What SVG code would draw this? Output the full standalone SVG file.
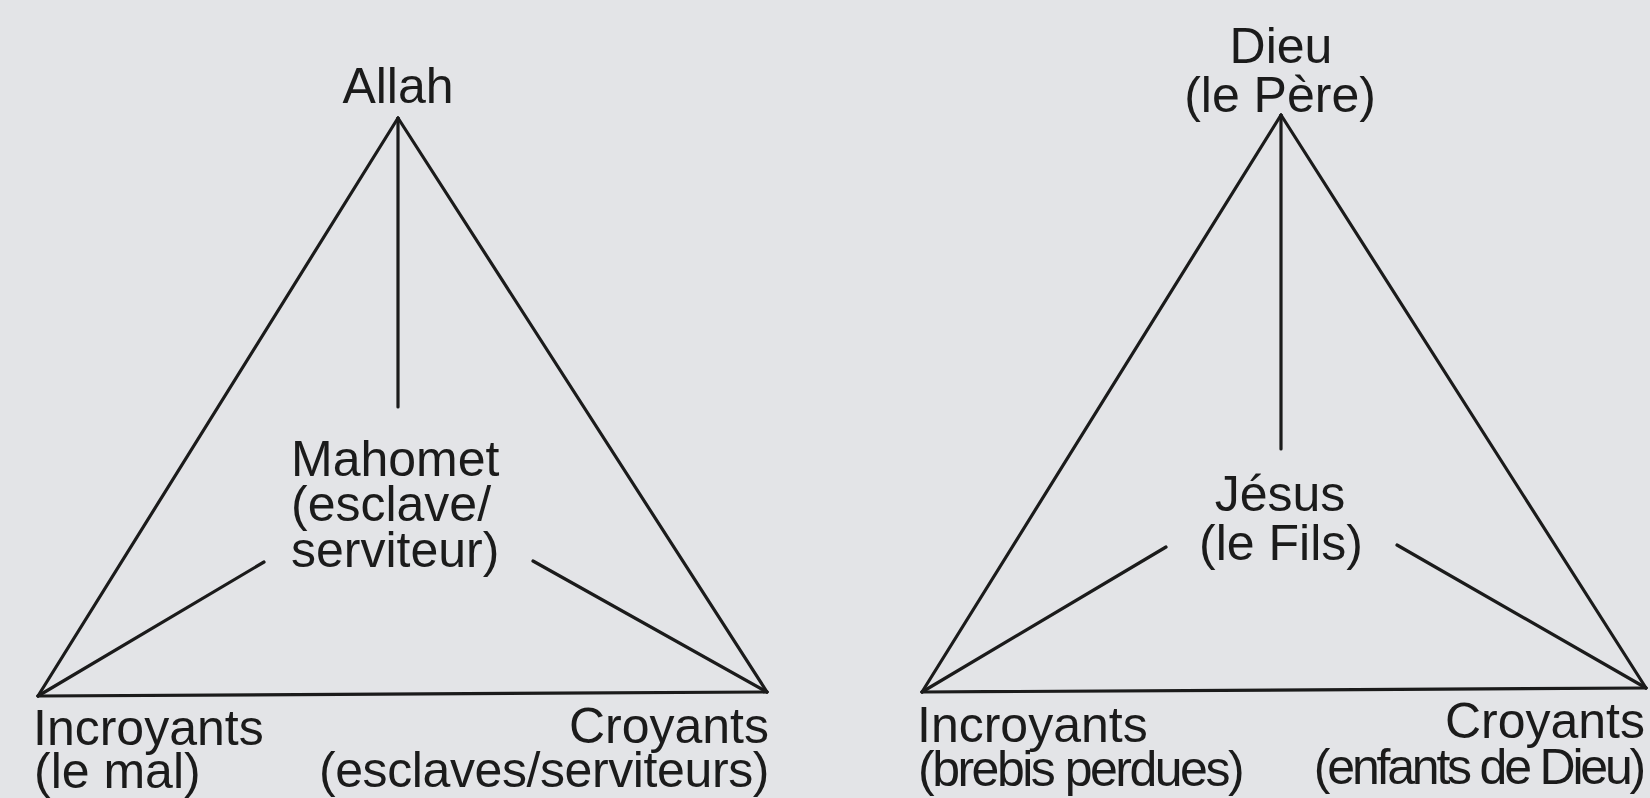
<svg xmlns="http://www.w3.org/2000/svg" width="1650" height="798" viewBox="0 0 1650 798">
<style>
.bg{fill:#e3e4e7}
.ln{stroke:#1b1b1b;stroke-width:3.2;stroke-linecap:round;fill:none}
text{font-family:"Liberation Sans",Arial,sans-serif;font-size:50px;fill:#1b1b1b}
.c{text-anchor:middle}
.e{text-anchor:end}
</style>
<rect class="bg" x="0" y="0" width="1650" height="798"/>
<g id="connectors">
<line class="ln" x1="398" y1="118" x2="38" y2="696"/>
<line class="ln" x1="398" y1="118" x2="767" y2="692"/>
<line class="ln" x1="38" y1="696" x2="767" y2="692"/>
<line class="ln" x1="398" y1="118" x2="398" y2="407"/>
<line class="ln" x1="38" y1="696" x2="264" y2="562"/>
<line class="ln" x1="533" y1="561" x2="767" y2="692"/>
<line class="ln" x1="1281" y1="115" x2="922" y2="692"/>
<line class="ln" x1="1281" y1="115" x2="1646" y2="688"/>
<line class="ln" x1="922" y1="692" x2="1646" y2="688"/>
<line class="ln" x1="1281" y1="115" x2="1281" y2="449"/>
<line class="ln" x1="922" y1="692" x2="1166" y2="547"/>
<line class="ln" x1="1397" y1="545" x2="1646" y2="688"/>
</g>
<g id="allah"><text class="c" x="398" y="103">Allah</text></g>
<g id="mahomet">
<text x="291" y="476">Mahomet</text>
<text x="291" y="521">(esclave/</text>
<text x="291" y="567">serviteur)</text>
</g>
<g id="incroyants-islam">
<text x="33" y="745">Incroyants</text>
<text x="34" y="788">(le mal)</text>
</g>
<g id="croyants-islam">
<text class="e" x="769" y="743">Croyants</text>
<text class="e" x="769" y="787" letter-spacing="-0.4">(esclaves/serviteurs)</text>
</g>
<g id="dieu">
<text class="c" x="1281" y="63">Dieu</text>
<text class="c" x="1280" y="112">(le Père)</text>
</g>
<g id="jesus">
<text class="c" x="1280" y="511">Jésus</text>
<text class="c" x="1281" y="560">(le Fils)</text>
</g>
<g id="incroyants-chretien">
<text x="917" y="742">Incroyants</text>
<text x="918" y="786" letter-spacing="-2.5">(brebis perdues)</text>
</g>
<g id="croyants-chretien">
<text class="e" x="1645" y="738">Croyants</text>
<text class="e" x="1643" y="784" letter-spacing="-3.2">(enfants de Dieu)</text>
</g>
</svg>
